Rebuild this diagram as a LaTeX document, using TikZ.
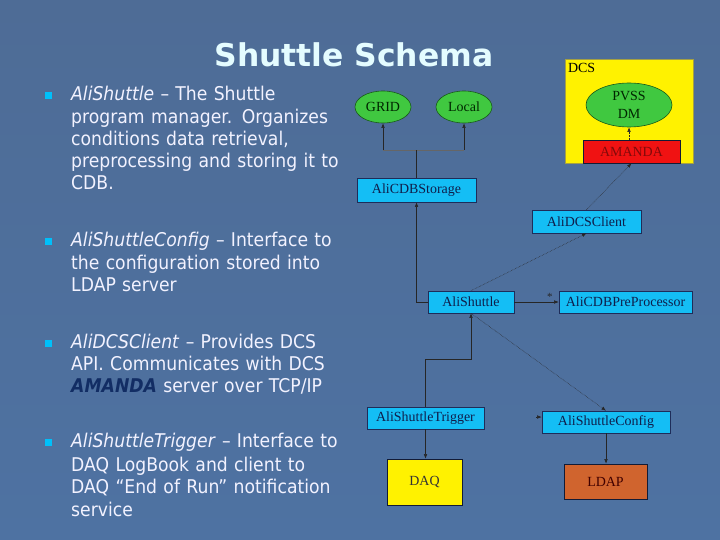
\documentclass[tikz,border=0pt]{standalone}
\usepackage{fontspec}
\setmainfont{Liberation Serif}
\newfontfamily\slidefont[FakeStretch=0.91]{DejaVu Sans}
\newfontfamily\titlefont{DejaVu Sans}
\usetikzlibrary{arrows.meta,positioning,shapes.geometric}

\definecolor{slidetop}{RGB}{78,108,150}
\definecolor{slidebottom}{RGB}{78,114,162}
\definecolor{titlecyan}{RGB}{228,252,255}
\definecolor{bulletcyan}{RGB}{0,192,250}
\definecolor{boxcyan}{RGB}{20,190,245}
\definecolor{boxedge}{RGB}{30,45,90}
\definecolor{boxtext}{RGB}{15,30,75}
\definecolor{nodegreen}{RGB}{64,200,64}
\definecolor{edgegreen}{RGB}{25,90,25}
\definecolor{amandared}{RGB}{240,18,18}
\definecolor{amandatext}{RGB}{130,10,10}
\definecolor{ldaporange}{RGB}{208,100,46}
\definecolor{navytext}{RGB}{18,45,100}

\begin{document}
\begin{tikzpicture}[x=1bp,y=-1bp,
		>={Latex[length=4.5bp,width=3.5bp]},
		bullettext/.style={anchor=base west, inner sep=0pt, text=white!95!blue, align=left,
			text width=320bp, font=\slidefont\fontsize{19}{22.3}\selectfont},
		bulletsq/.style={fill=bulletcyan, inner sep=0pt, minimum size=7bp},
		classbox/.style={draw=boxedge, fill=boxcyan, text=boxtext, line width=0.6bp,
			inner sep=0pt, font=\fontsize{14}{16}\selectfont},
		plainbox/.style={draw=boxedge!60!black, line width=0.6bp, inner sep=0pt,
			font=\fontsize{14}{16}\selectfont},
		dbellipse/.style={ellipse, draw=edgegreen, fill=nodegreen, text=black!85!green,
			line width=0.6bp, inner sep=0pt, font=\fontsize{14}{16}\selectfont},
		link/.style={->, line width=0.5bp, black!85},
		dotlink/.style={link, densely dotted}]
	% 1. slide background and title
	\fill[top color=slidetop, bottom color=slidebottom] (0,0) rectangle (720,540);
	\useasboundingbox (0,0) rectangle (720,540);
	\node[anchor=base, text=titlecyan, inner sep=0pt,
		font=\titlefont\bfseries\fontsize{31.5}{32}\selectfont] (title) at (354,67) {Shuttle Schema};
	
	% 2. bullet list on the left
	\node[bulletsq] (b1) at (48,95.5) {};
	\node[bullettext] (t1) at (71,101) {\textit{AliShuttle} – The Shuttle\\
		program manager. Organizes\\conditions data retrieval,\\
		preprocessing and storing it to\\CDB.};
	\node[bulletsq] (b2) at (48,242) {};
	\node[bullettext] (t2) at (71,247) {\textit{AliShuttleConfig} – Interface to\\
		the configuration stored into\\LDAP server};
	\node[bulletsq] (b3) at (48,343) {};
	\node[bullettext] (t3) at (71,348) {\textit{AliDCSClient} – Provides DCS\\
		API. Communicates with DCS\\
		{\color{navytext}\bfseries\itshape AMANDA} server over TCP/IP};
	\node[bulletsq] (b4) at (48,442) {};
	\node[bullettext] (t4) at (71,447) {\textit{AliShuttleTrigger} – Interface to\\[2.5bp]
		DAQ LogBook and client to\\DAQ “End of Run” notification\\service};
	
	% 3. storage side: GRID / Local
	\node[dbellipse, minimum width=56bp, minimum height=32bp] (grid) at (383,107) {GRID};
	\node[dbellipse, minimum width=56bp, minimum height=32bp] (local) at (464,107) {Local};
	\node[classbox, minimum width=119bp, minimum height=24bp] (cdb) at (416.5,190) {AliCDBStorage};
	
	% 4. DCS block with PVSS DM and AMANDA
	\node[fill=yellow, draw=yellow!60!black, line width=0.4bp, minimum width=128bp,
		minimum height=104bp, inner sep=0pt] (dcs) at (629,111) {};
	\node[anchor=north west, inner sep=0pt, font=\fontsize{14}{16}\selectfont]
		(dcslabel) at ([xshift=3bp,yshift=-4bp]dcs.north west) {DCS};
	\node[dbellipse, minimum width=86bp, minimum height=44bp, align=center,
		font=\fontsize{14}{18}\selectfont] (pvss) at (629,105) {PVSS\\DM};
	\node[plainbox, fill=amandared, text=amandatext, minimum width=97bp,
		minimum height=23bp] (amanda) at (631.5,151.5) {AMANDA};
	
	% 5. shuttle classes
	\node[classbox, minimum width=109bp, minimum height=23bp] (dcsclient) at (586.5,221.5) {AliDCSClient};
	\node[classbox, minimum width=86bp, minimum height=22bp] (shuttle) at (471,302) {AliShuttle};
	\node[classbox, minimum width=133bp, minimum height=22bp] (preproc) at (625.5,302) {AliCDBPreProcessor};
	\node[classbox, minimum width=117bp, minimum height=22bp] (trigger) at (425.5,418) {AliShuttleTrigger};
	\node[classbox, minimum width=128bp, minimum height=22bp] (config) at (606,422) {AliShuttleConfig};
	\node[plainbox, fill=yellow, text=black!80, minimum width=75bp, minimum height=46bp] (daq) at (424.5,482) {DAQ};
	\node[plainbox, fill=ldaporange, text=black!75!red, minimum width=83bp, minimum height=35bp] (ldap) at (605.5,481.5) {LDAP};
	
	% 6. connectors
	\coordinate (fork) at (416.5,150);
	\coordinate (tbend) at (471,359);
	\coordinate (stub) at (536,417);
	\draw[line width=0.5bp, black!60] (grid.south |- fork) -- (local.south |- fork);
	\draw[line width=0.5bp, black!85] (cdb.north) -- (fork);
	\draw[link] (grid.south |- fork) -- (grid.south);
	\draw[link] (local.south |- fork) -- (local.south);
	\draw[link] (shuttle.west) -| (cdb.south);
	\draw[dotlink] (shuttle.north) -- (dcsclient.south);
	\draw[dotlink] (dcsclient.north) -- (amanda.south);
	\draw[dotlink] (amanda.north -| pvss.south) -- (pvss.south);
	\draw[link] (shuttle.east) -- node[pos=0.8, above, inner sep=1bp, font=\fontsize{11}{11}\selectfont] (star) {*} (preproc.west);
	\draw[link] (trigger.north) |- (tbend) -- (shuttle.south);
	\draw[dotlink] (shuttle.south) -- (config.north);
	\draw[link] (stub) -- (stub -| config.west);
	\draw[link] (trigger.south) -- (trigger.south |- daq.north);
	\draw[link] (config.south) -- (config.south |- ldap.north);
\end{tikzpicture}
\end{document}
